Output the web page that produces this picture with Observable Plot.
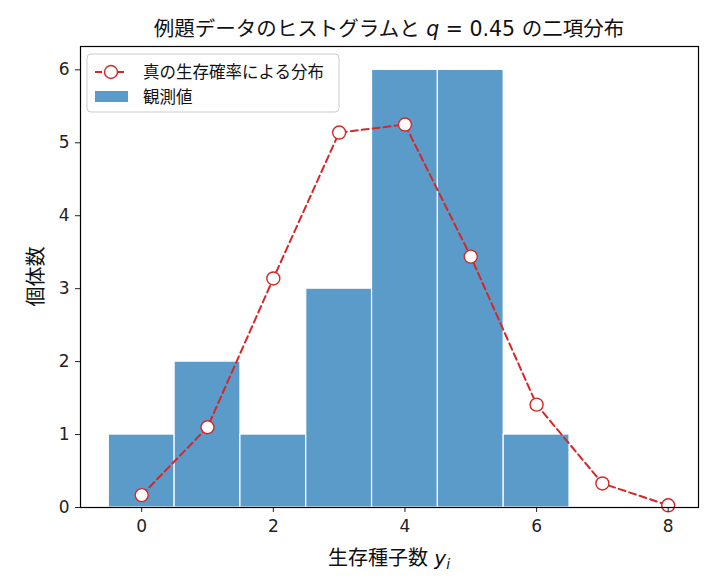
<!DOCTYPE html>
<html><head><meta charset="utf-8">
<script src="https://cdn.jsdelivr.net/npm/d3@7"></script>
<script src="https://cdn.jsdelivr.net/npm/@observablehq/plot@0.6"></script>
<style>
html,body{margin:0;padding:0;background:#fff;overflow:hidden;}
svg{display:block;}
svg text{font-family:"DejaVu Sans","Noto Sans CJK JP",sans-serif;}
</style></head>
<body><div id="chart"></div>
<script>
const seedCounts = [0,1,2,3,4,5,6];
const observed = [1,2,1,3,6,6,1];
const kValues = [0,1,2,3,4,5,6,7,8];
const expected = [0.17,1.10,3.14,5.14,5.25,3.44,1.41,0.33,0.03];
const xTicks = [0,2,4,6,8];
const yTicks = [0,1,2,3,4,5,6];

const bars = seedCounts.map((k,i)=>({x1:k-0.5,x2:k+0.5,y:observed[i]}));
const pts = kValues.map((k,i)=>({x:k,y:expected[i]}));

const W=718,H=582,ML=80,MR=20,MT=46,MB=75;
const font = '"DejaVu Sans","Noto Sans CJK JP",sans-serif';
const plot = Plot.plot({
  width:W,height:H,marginLeft:ML,marginRight:MR,marginTop:MT,marginBottom:MB,
  style:{fontFamily:font,fontSize:"17px",color:"#222",background:"#fff"},
  x:{domain:[-0.93,8.46]},
  y:{domain:[0,6.32]},
  marks:[
    Plot.rectY(bars,{x1:"x1",x2:"x2",y:"y",fill:"#5b9bc9",stroke:"#fff",strokeWidth:1.2}),
    Plot.line(pts,{x:"x",y:"y",stroke:"#d62728",strokeWidth:2,strokeDasharray:"7,4"}),
    Plot.dot(pts,{x:"x",y:"y",r:6.5,fill:"#fff",stroke:"#d62728",strokeWidth:1.4}),
    Plot.axisX({ticks:xTicks,tickSize:5,tickPadding:7,label:null,fontSize:17,fill:"#222",tickFormat:d=>String(d)}),
    Plot.axisY({ticks:yTicks,tickSize:5,tickPadding:6,label:null,fontSize:17,fill:"#222",tickFormat:d=>String(d)}),
    Plot.frame({stroke:"#000",strokeWidth:1.2})
  ]
});
document.getElementById("chart").appendChild(plot);
const svg = d3.select(plot);
svg.selectAll('g[aria-label$="tick label"]').attr("font-size",17);
const cx = ML + (W-ML-MR)/2;
// title
const t = svg.append("text").attr("x",cx).attr("y",36).attr("text-anchor","middle")
  .attr("font-size",20.5).attr("fill","#111");
t.append("tspan").text("例題データのヒストグラムと ");
t.append("tspan").attr("font-style","italic").text("q");
t.append("tspan").text(" = 0.45 の二項分布");
// x label
const xl = svg.append("text").attr("x",cx).attr("y",565).attr("text-anchor","middle")
  .attr("font-size",20).attr("fill","#111");
xl.append("tspan").text("生存種子数 ");
xl.append("tspan").attr("font-style","italic").text("y");
xl.append("tspan").attr("font-style","italic").attr("font-size",14).attr("dy",4).text("i");
// y label
svg.append("text").attr("transform",`translate(43,${MT+(H-MT-MB)/2}) rotate(-90)`)
  .attr("text-anchor","middle").attr("font-size",20).attr("fill","#111").text("個体数");
// legend
const lg = svg.append("g").attr("text-anchor","start");
lg.append("rect").attr("x",87).attr("y",54).attr("width",252).attr("height",58).attr("rx",4)
  .attr("fill","#fff").attr("fill-opacity",0.85).attr("stroke","#ccc");
lg.append("line").attr("x1",94).attr("x2",128).attr("y1",72).attr("y2",72)
  .attr("stroke","#d62728").attr("stroke-width",2).attr("stroke-dasharray","7,4").attr("stroke-dashoffset",-1);
lg.append("circle").attr("cx",111).attr("cy",72).attr("r",6.5).attr("fill","#fff")
  .attr("stroke","#d62728").attr("stroke-width",1.4);
lg.append("text").attr("x",143).attr("y",78).attr("text-anchor","start").attr("font-size",16.5).attr("fill","#111").text("真の生存確率による分布");
lg.append("rect").attr("x",95).attr("y",91).attr("width",33).attr("height",11).attr("fill","#5b9bc9");
lg.append("text").attr("x",143).attr("y",103).attr("text-anchor","start").attr("font-size",16.5).attr("fill","#111").text("観測値");
</script></body></html>
